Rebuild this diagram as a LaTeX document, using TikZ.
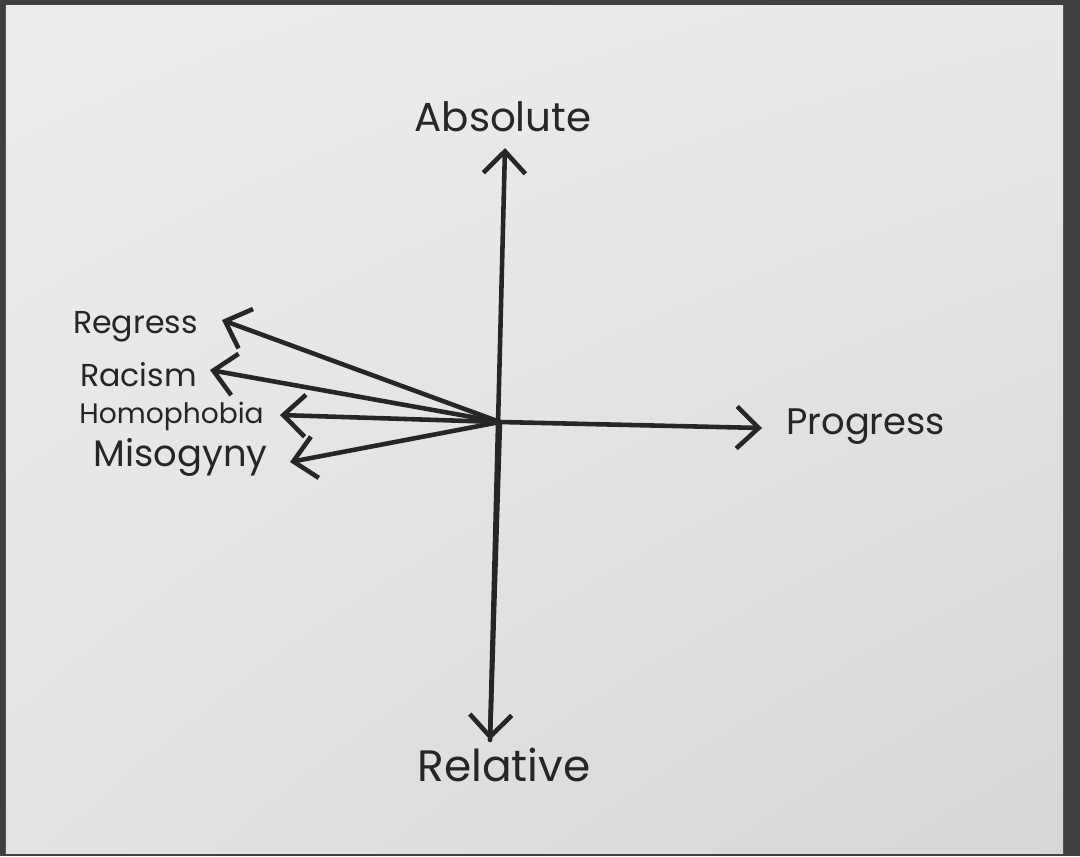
\documentclass[tikz,border=0pt]{standalone}
\usepackage{fontspec}
\setmainfont{Poppins}
\usepackage{tikz}
\usetikzlibrary{arrows.meta, positioning, shadings}

\begin{document}
\begin{tikzpicture}[>={Straight Barb[length=2.2mm, width=4.2mm]}, line width=1.3pt,
    axis/.style={->, black!85, line cap=round},
    lbl/.style={black!85, font=\fontsize{11.5}{13}\selectfont, inner sep=0pt},
    sidelbl/.style={lbl, anchor=east}]
      % photo edge and canvas
      \useasboundingbox (0,0) rectangle (10.8,8.56);
      \fill[black!75] (0,0) rectangle (10.8,8.56);
      \shade[upper left=black!7, upper right=black!9, lower left=black!11, lower right=black!16]
        (0.06,0.03) rectangle (10.63,8.51);
      % axes
      \coordinate (o) at (5.00,4.34);
      \coordinate (up) at (5.05,7.08);
      \coordinate (down) at (4.90,1.16);
      \coordinate (right) at (7.62,4.28);
      \draw[axis] (down) -- (up);
      \draw[axis] (o) -- (down);
      \draw[axis] (o) -- (right);
      \node[lbl] (absolute) at (5.03,7.39) {Absolute};
      \node[lbl, font=\fontsize{12.5}{14}\selectfont] (relative) at (5.04,0.91) {Relative};
      \node[lbl, font=\fontsize{10.5}{12}\selectfont, anchor=west] (progress) at (7.84,4.29) {Progress};
      % left arrows
      \coordinate (regtip) at (2.22,5.36);
      \coordinate (ractip) at (2.10,4.86);
      \coordinate (homtip) at (2.80,4.41);
      \coordinate (mistip) at (2.90,3.94);
      \draw[axis] (o) -- (regtip);
      \draw[axis] (o) -- (ractip);
      \draw[axis] (o) -- (homtip);
      \draw[axis] (o) -- (mistip);
      \node[sidelbl, font=\fontsize{9}{11}\selectfont] (regress) at (2.00,5.29) {Regress};
      \node[sidelbl, font=\fontsize{9}{11}\selectfont] (racism) at (1.99,4.81) {Racism};
      \node[sidelbl, font=\fontsize{8}{10}\selectfont] (homophobia) at (2.66,4.40) {Homophobia};
      \node[sidelbl, font=\fontsize{10.5}{12}\selectfont] (misogyny) at (2.70,3.99) {Misogyny};
\end{tikzpicture}
\end{document}
